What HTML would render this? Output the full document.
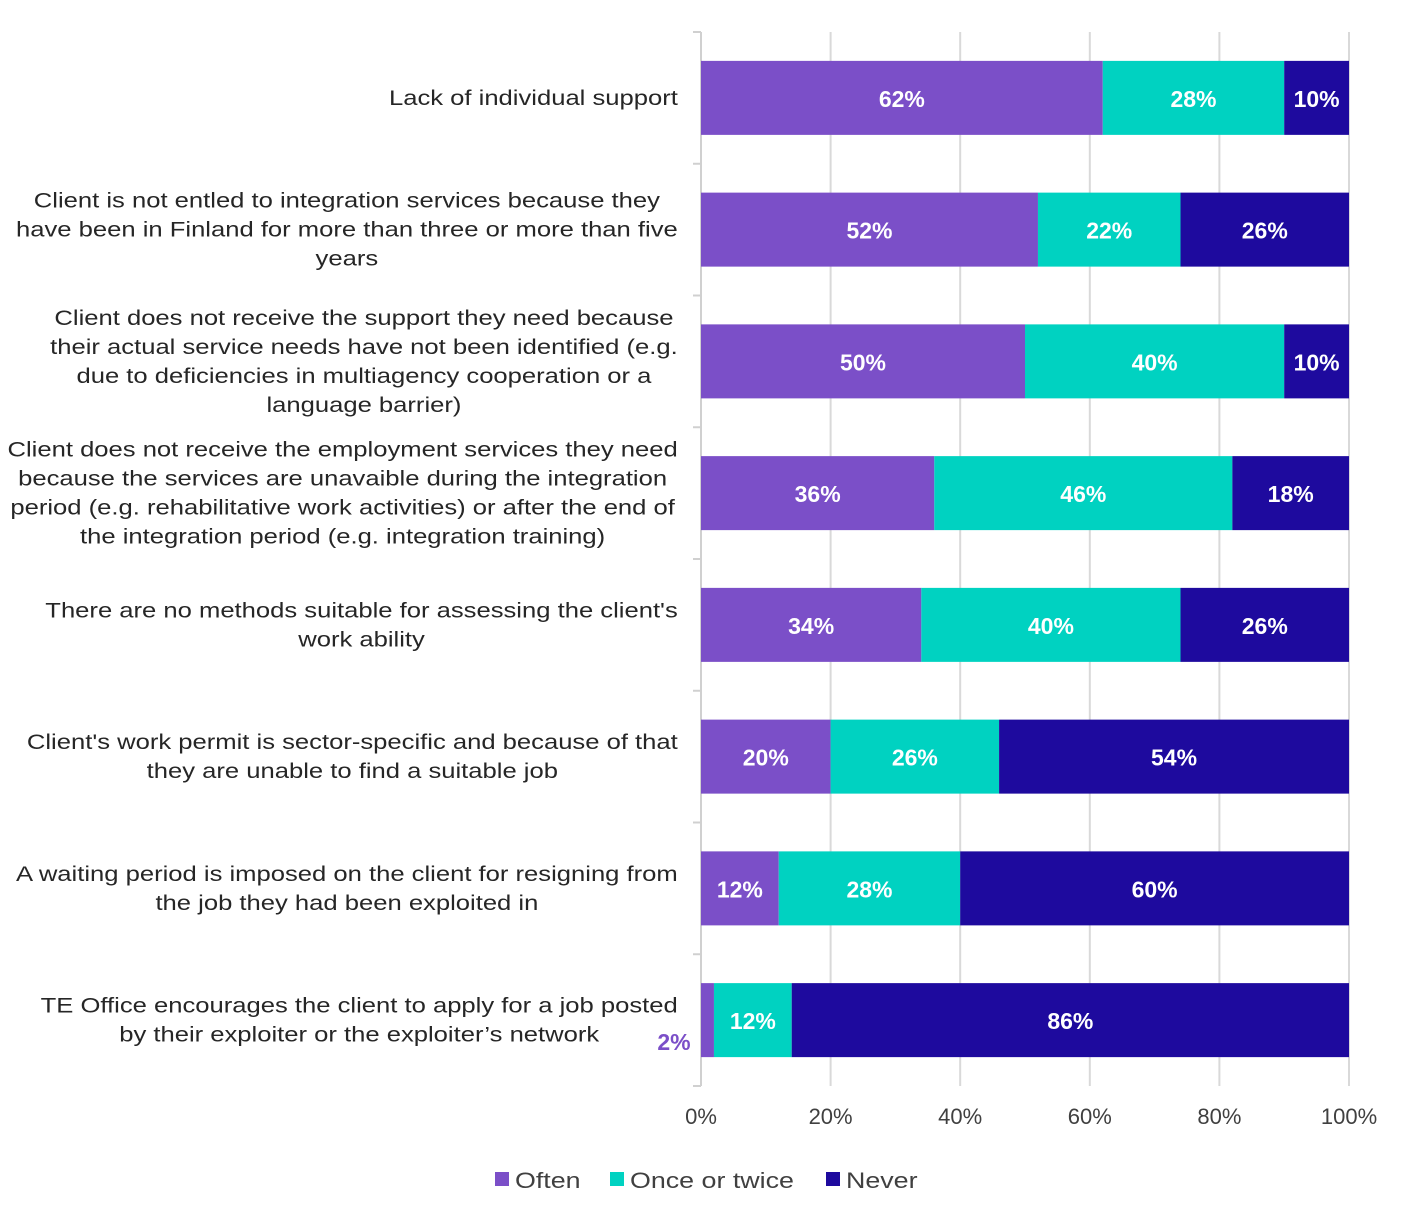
<!DOCTYPE html>
<html><head><meta charset="utf-8"><style>
body{margin:0;background:#fff;}
svg{display:block;font-family:"Liberation Sans",sans-serif;}
</style></head><body>
<svg id="c" width="1401" height="1221"></svg>
<script>
const categories=[
["Lack of individual support"],
["Client is not entled to integration services because they","have been in Finland for more than three or more than five","years"],
["Client does not receive the support they need because","their actual service needs have not been identified (e.g.","due to deficiencies in multiagency cooperation or a","language barrier)"],
["Client does not receive the employment services they need","because the services are unavaible during the integration","period (e.g. rehabilitative work activities) or after the end of","the integration period (e.g. integration training)"],
["There are no methods suitable for assessing the client's","work ability"],
["Client's work permit is sector-specific and because of that","they are unable to find a suitable job"],
["A waiting period is imposed on the client for resigning from","the job they had been exploited in"],
["TE Office encourages the client to apply for a job posted","by their exploiter or the exploiter\u2019s network"]];
const often=[62,52,50,36,34,20,12,2];
const once=[28,22,40,46,40,26,28,12];
const never=[10,26,10,18,26,54,60,86];
const ticks=[0,20,40,60,80,100];
const seriesNames=["Often","Once or twice","Never"];
const colors=["#7b4fc8","#00d2c1","#1e0a9e"];
const NS="http://www.w3.org/2000/svg";
const svg=document.getElementById('c');
const x0=701,x1=1349,yTop=32,yBot=1086,rowH=(yBot-yTop)/categories.length,barH=74;
const SX=1.22;
const xs=v=>x0+(x1-x0)*v/100;
const yc=i=>yTop+rowH*(i+0.5);
function mk(t,a,p){const e=document.createElementNS(NS,t);for(const k in a)e.setAttribute(k,a[k]);(p||svg).appendChild(e);return e;}
ticks.forEach(t=>{if(t>0){const g=mk('line',{x1:xs(t),x2:xs(t),y1:yTop,y2:yBot,stroke:'#d9d9d9','stroke-width':2});

}
const l=mk('text',{x:xs(t),y:1124,'text-anchor':'middle','font-size':22,fill:'#404040'});l.textContent=t+'%';

});
const ax=mk('line',{x1:x0,x2:x0,y1:yTop,y2:yBot,stroke:'#d0d0d0','stroke-width':2});


for(let i=0;i<=categories.length;i++){const y=yTop+rowH*i;const tk=mk('line',{x1:693,x2:x0,y1:y,y2:y,stroke:'#d0d0d0','stroke-width':2});

}
categories.forEach((lines,i)=>{
const g=mk('g',{});


const n=lines.length,els=[];let maxW=0;
lines.forEach((s,j)=>{const t=mk('text',{y:yc(i)+(j-(n-1)/2)*29+7,'font-size':21,fill:'#262626','text-anchor':'middle'},g);t.textContent=s;els.push(t);maxW=Math.max(maxW,t.getComputedTextLength());});
const sc=Math.min(SX,672/maxW);
els.forEach(t=>{t.setAttribute('x',(678-maxW*sc/2)/sc);t.setAttribute('transform','scale('+sc+',1)');});
const vals=[often[i],once[i],never[i]];let acc=0;
vals.forEach((v,k)=>{const r=mk('rect',{x:xs(acc),y:yc(i)-barH/2,width:xs(acc+v)-xs(acc),height:barH,fill:colors[k]});


const lbl=mk('text',{'font-size':23,'font-weight':'bold','text-anchor':'middle'});
if(v>=5){lbl.setAttribute('x',xs(acc+v/2));lbl.setAttribute('y',yc(i)+9);lbl.setAttribute('fill','#fff');}
else{lbl.setAttribute('x',674);lbl.setAttribute('y',yc(i)+30);lbl.setAttribute('fill',colors[k]);}
lbl.textContent=v+'%';


acc+=v;});
});
const lx=[495,610,826];
seriesNames.forEach((s,k)=>{const g=mk('g',{});


mk('rect',{x:lx[k],y:1172,width:14,height:14,fill:colors[k]},g);
const t=mk('text',{x:(lx[k]+20)/SX,y:1188,'font-size':22,fill:'#404040',transform:'scale('+SX+',1)'},g);t.textContent=s;});
</script>
</body></html>
